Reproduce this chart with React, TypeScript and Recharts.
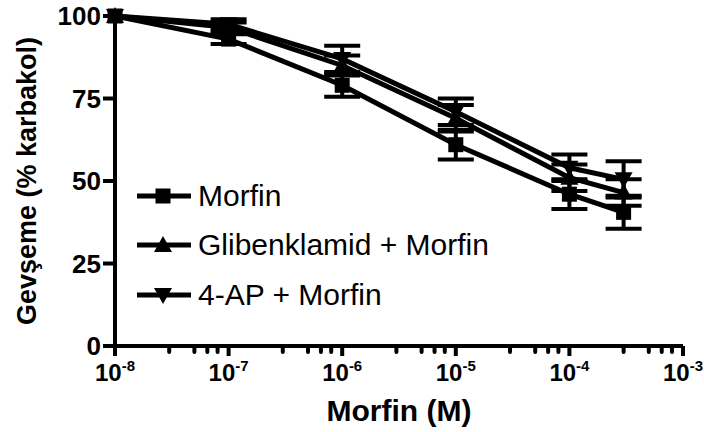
import React from 'react';
import { LineChart, Line, XAxis, YAxis, ErrorBar, Legend } from 'recharts';

// doses (M) and mean ± SEM
const doses = [1e-8, 1e-7, 1e-6, 1e-5, 1e-4, 3e-4];
const morfinMean = [100, 93, 79, 61, 46, 40.5];
const morfinSem = [0, 1.5, 3.5, 4.5, 4.5, 5];
const glibMean = [100, 96.5, 85, 69, 51, 46.5];
const glibSem = [0, 1.5, 3, 4, 4, 4];
const apMean = [100, 97.5, 87, 71, 54, 50.5];
const apSem = [0, 1.5, 4, 4, 4, 5.5];

const seriesNames = ['Morfin', 'Glibenklamid + Morfin', '4-AP + Morfin'];
const majorTicks = [1e-8, 1e-7, 1e-6, 1e-5, 1e-4, 1e-3];
const majorExponents = ['-8', '-7', '-6', '-5', '-4', '-3'];
const minorSteps = [3, 5, 6.5, 8];
const yTicks = [0, 25, 50, 75, 100];

const FONT = '"Liberation Sans", Arial, Helvetica, sans-serif';

const toRows = (mean: number[], sem: number[]) =>
  doses.map((x, i) => ({ x, y: mean[i], err: sem[i] }));

const morfinData = toRows(morfinMean, morfinSem);
const glibData = toRows(glibMean, glibSem);
const apData = toRows(apMean, apSem);

const minorTicks = majorTicks.slice(0, -1).flatMap((d) => minorSteps.map((m) => d * m));
const allTicks = [...majorTicks, ...minorTicks].sort((a, b) => a - b);

function majorIndex(v: number) {
  return majorTicks.findIndex((t) => Math.abs(Math.log10(t) - Math.log10(v)) < 1e-6);
}

function XTick({ x, y, payload }: any) {
  const idx = majorIndex(payload.value);
  const major = idx >= 0;
  return (
    <g>
      <line x1={x} x2={x} y1={y} y2={y + (major ? 10 : 6)} stroke="#000" strokeWidth={4} strokeLinecap={major ? 'butt' : 'round'} />
      {major && (
        <text x={x} y={y + 35} textAnchor="middle" fill="#000" fontWeight="bold" fontSize={24} fontFamily={FONT}>
          <tspan>10</tspan>
          <tspan dy={-10} fontSize={15}>{majorExponents[idx]}</tspan>
        </text>
      )}
    </g>
  );
}

type Shape = 'square' | 'up' | 'down';
const shapes: Shape[] = ['square', 'up', 'down'];

function Marker({ cx, cy, shape }: { cx: number; cy: number; shape: Shape }) {
  if (shape === 'square') return <rect x={cx - 7.5} y={cy - 7.5} width={15} height={15} fill="#000" />;
  if (shape === 'up')
    return <polygon points={`${cx},${cy - 9} ${cx + 9},${cy + 7} ${cx - 9},${cy + 7}`} fill="#000" />;
  return <polygon points={`${cx - 9},${cy - 7} ${cx + 9},${cy - 7} ${cx},${cy + 9}`} fill="#000" />;
}

const makeDot = (shape: Shape) => (props: any) => {
  const { cx, cy, index } = props;
  if (cx == null || cy == null) return <g key={index} />;
  return <Marker key={index} cx={cx} cy={cy} shape={shape} />;
};

function LegendBox() {
  return (
    <div style={{ fontFamily: FONT }}>
      {seriesNames.map((name, i) => (
        <div key={name} style={{ display: 'flex', alignItems: 'center', height: 49.5 }}>
          <svg width={60} height={24} style={{ display: 'block' }}>
            <line x1={2} x2={56} y1={12} y2={12} stroke="#000" strokeWidth={5} />
            <Marker cx={28} cy={12} shape={shapes[i]} />
          </svg>
          <span style={{ fontSize: 30, color: '#000', marginLeft: 3, lineHeight: 1 }}>{name}</span>
        </div>
      ))}
    </div>
  );
}

export default function App() {
  return (
    <div style={{ position: 'fixed', left: 0, top: 0, width: 704, height: 432, background: '#fff', fontFamily: FONT }}>
      <LineChart width={704} height={432} margin={{ top: 16, right: 21, left: 0, bottom: 0 }}>
        <XAxis
          dataKey="x"
          type="number"
          scale="log"
          domain={[1e-8, 1e-3]}
          ticks={allTicks}
          interval={0}
          tickSize={0}
          tickMargin={0}
          tickLine={false}
          tick={<XTick />}
          axisLine={{ stroke: '#000', strokeWidth: 4 }}
          height={86}
          label={{
            value: 'Morfin (M)',
            position: 'insideBottom',
            offset: 11,
            style: { fontWeight: 'bold', fontSize: 30, fill: '#000', fontFamily: FONT },
          }}
        />
        <YAxis
          type="number"
          domain={[0, 100]}
          ticks={yTicks}
          interval={0}
          width={115}
          tickSize={12}
          tickMargin={2}
          tick={{ fill: '#000', fontSize: 26, fontWeight: 'bold', fontFamily: FONT }}
          tickLine={{ stroke: '#000', strokeWidth: 4 }}
          axisLine={{ stroke: '#000', strokeWidth: 4 }}
          label={{
            value: 'Gevşeme (% karbakol)',
            angle: -90,
            position: 'insideLeft',
            offset: 26,
            style: { textAnchor: 'middle', fontWeight: 'bold', fontSize: 27, fill: '#000', fontFamily: FONT },
          }}
        />
        <Legend
          layout="vertical"
          align="center"
          verticalAlign="middle"
          content={() => <LegendBox />}
          wrapperStyle={{ left: 135, top: 171, width: 'auto', height: 'auto' }}
        />
        <Line data={morfinData} dataKey="y" name={seriesNames[0]} stroke="#000" strokeWidth={5} dot={makeDot('square')} isAnimationActive={false}>
          <ErrorBar dataKey="err" direction="y" width={18} stroke="#000" strokeWidth={4} />
        </Line>
        <Line data={glibData} dataKey="y" name={seriesNames[1]} stroke="#000" strokeWidth={5} dot={makeDot('up')} isAnimationActive={false}>
          <ErrorBar dataKey="err" direction="y" width={18} stroke="#000" strokeWidth={4} />
        </Line>
        <Line data={apData} dataKey="y" name={seriesNames[2]} stroke="#000" strokeWidth={5} dot={makeDot('down')} isAnimationActive={false}>
          <ErrorBar dataKey="err" direction="y" width={18} stroke="#000" strokeWidth={4} />
        </Line>
      </LineChart>
    </div>
  );
}
